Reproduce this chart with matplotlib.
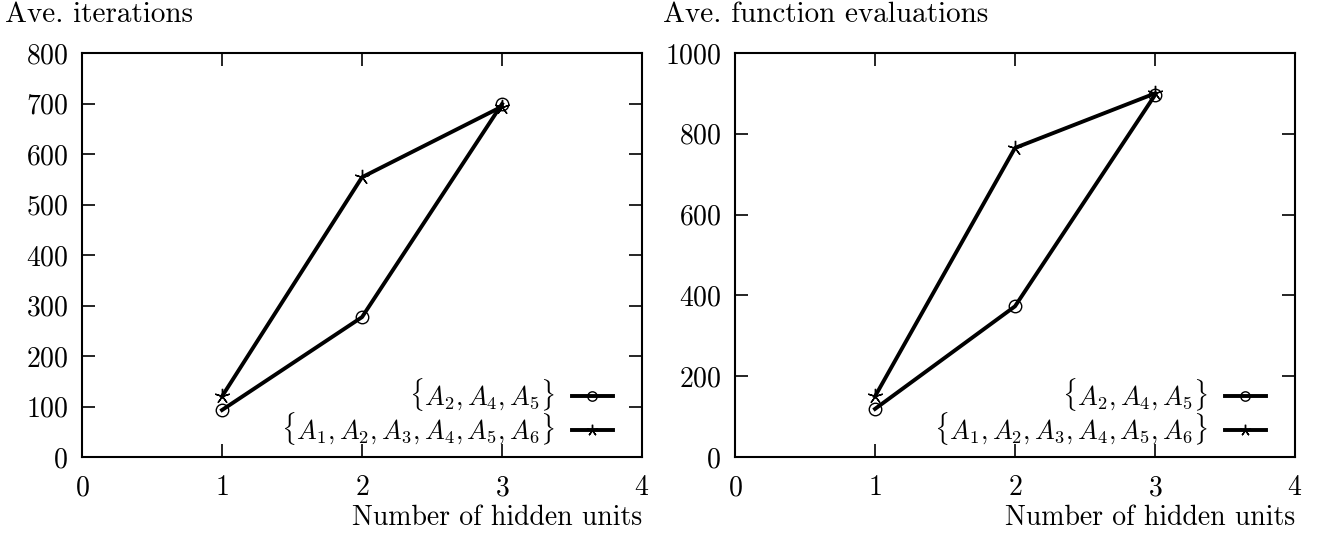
import matplotlib
matplotlib.use("Agg")
import matplotlib.pyplot as plt

plt.rcParams['font.family'] = ['cmr10', 'DejaVu Serif']
plt.rcParams['mathtext.fontset'] = 'cm'
plt.rcParams['axes.unicode_minus'] = False
plt.rcParams['axes.formatter.use_mathtext'] = True

hidden_units = [1, 2, 3]
label_a = r'$\{A_2, A_4, A_5\}$'
label_b = r'$\{A_1, A_2, A_3, A_4, A_5, A_6\}$'

iter_a = [93, 277, 699]
iter_b = [120, 554, 694]
feval_a = [119, 373, 896]
feval_b = [150, 765, 900]

x_ticks = [0, 1, 2, 3, 4]
iter_ticks = [0, 100, 200, 300, 400, 500, 600, 700, 800]
feval_ticks = [0, 200, 400, 600, 800, 1000]

W, H = 1318, 535
fig = plt.figure(figsize=(W / 100, H / 100), dpi=100)

FS = 20

def make_axes(left_px, ya, yb, yticks, ylim, title, title_x):
    ax = fig.add_axes([left_px / W, 1 - 457 / H, 560 / W, 404 / H])
    ax.plot(hidden_units, ya, color='black', lw=2.8, marker='o', ms=9,
            mfc='none', mec='black', mew=1.0, label=label_a)
    ax.plot(hidden_units, yb, color='black', lw=2.8, marker=(5, 2, 0), ms=11,
            mec='black', mew=1.0, label=label_b)
    ax.set_xlim(0, 4)
    ax.set_ylim(*ylim)
    ax.set_xticks(x_ticks)
    ax.set_yticks(yticks)
    ax.tick_params(direction='in', length=9.5, width=1.2, top=True, right=True,
                   labelsize=FS)
    ax.tick_params(axis='x', pad=13)
    ax.tick_params(axis='y', pad=10)
    for s in ax.spines.values():
        s.set_linewidth(1.5)
    ax.legend(loc='lower right', bbox_to_anchor=(0.948, 0.025),
              frameon=False, markerfirst=False,
              fontsize=19, handlelength=1.55, handletextpad=0.65,
              labelspacing=-0.1, borderaxespad=0.0, markerscale=0.75,
              borderpad=0.0)
    fig.text(title_x / W, 1 - 15 / H, title, ha='left', va='center', fontsize=21)
    fig.text((left_px + 560) / W, 1 - 518 / H, 'Number of hidden units',
             ha='right', va='center', fontsize=FS)
    return ax

make_axes(82, iter_a, iter_b, iter_ticks, (0, 800), 'Ave. iterations', 5)
make_axes(735, feval_a, feval_b, feval_ticks, (0, 1000), 'Ave. function evaluations', 663)

fig.savefig('out.png', dpi=100)
